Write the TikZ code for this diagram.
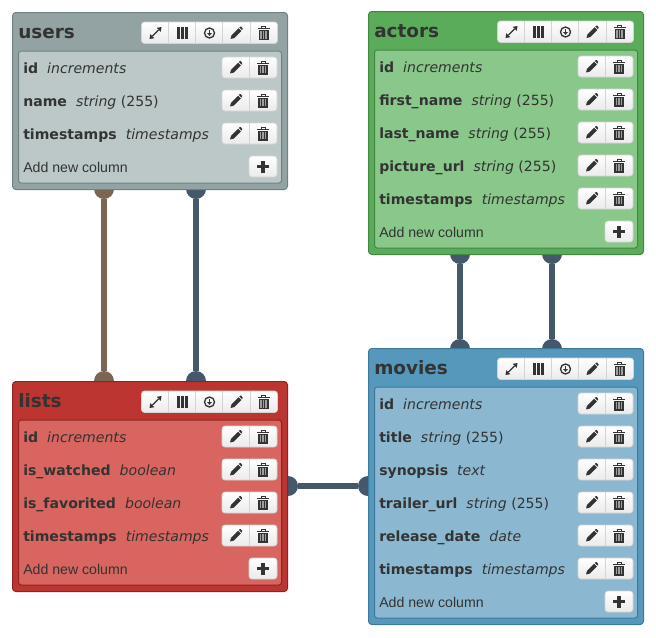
\documentclass[tikz,border=0pt]{standalone}
\usepackage{fontspec}
\setmainfont{DejaVu Sans}
\newfontfamily\addfont{Liberation Sans}
\definecolor{ink}{HTML}{333333}
\definecolor{iconink}{HTML}{333333}
\definecolor{connblue}{HTML}{44576B}
\definecolor{connbrown}{HTML}{7A6652}
\definecolor{btnedge}{HTML}{D4D4D4}
\tikzset{
  tabletitle/.style={anchor=base west,inner sep=0pt,text=ink,font=\fontsize{13.8pt}{16pt}\selectfont\bfseries},
  rowtext/.style={anchor=base west,inner sep=0pt,text=ink,font=\fontsize{10.55pt}{12pt}\selectfont},
  addtext/.style={anchor=base west,inner sep=0pt,text=ink,font=\fontsize{10.6pt}{12pt}\selectfont\addfont},
  enddot/.style={circle,inner sep=0pt,minimum size=15pt,fill=#1},
  connline/.style={line width=4.5pt,draw=#1},
  btn/.style={rounded corners=2.2pt,top color=white,bottom color=black!8,draw=btnedge,line width=.5pt},
  icon/.style={fill=iconink,draw=none},
}
% icons, drawn round the current origin (1 unit = 1 reference pixel)
\newcommand{\icPencil}[2]{\begin{scope}[shift={(#1,#2)},scale=.92]
  \fill[icon] (-6.5,6.5) -- (-5.4,2.4) -- (2.2,-5.2) -- (5.3,-2.1) -- (-2.4,5.5) -- cycle;
  \fill[icon] (3.1,-6.1) -- (4.2,-7) -- (5,-7) -- (6.7,-5.2) -- (6.7,-4.5) -- (6,-3.2) -- cycle;
\end{scope}}
\newcommand{\icTrash}[2]{\begin{scope}[shift={(#1,#2)}]
  \fill[icon] (-6,-5) rectangle (6,-3.8);
  \draw[iconink,line width=.7pt] (-2,-5) -- (-2,-6.3) -- (2,-6.3) -- (2,-5);
  \fill[icon] (-5,-2.8) rectangle (5,7);
  \foreach \s in {-3.3,-.7,1.9} \fill[white!62!black] (\s,-1.6) rectangle (\s+1.4,5.8);
\end{scope}}
\newcommand{\icExpand}[2]{\begin{scope}[shift={(#1,#2)}]
  \draw[iconink,line width=.9pt] (-3,3) -- (3,-3);
  \fill[icon] (6,-6) -- (1.2,-5.2) -- (5.2,-1.2) -- cycle;
  \fill[icon] (-6,6) -- (-1.2,5.2) -- (-5.2,1.2) -- cycle;
\end{scope}}
\newcommand{\icGrid}[2]{\begin{scope}[shift={(#1,#2)}]
  \foreach \a in {-5.6,-1.6,2.4} \foreach \b in {-5.6,-1.6,2.4} \fill[icon] (\a,\b) rectangle (\a+3.2,\b+3.2);
\end{scope}}
\newcommand{\icDown}[2]{\begin{scope}[shift={(#1,#2)}]
  \draw[iconink,line width=1pt] (0,0) circle[radius=5];
  \fill[icon] (-.9,-3) rectangle (.9,0);
  \fill[icon] (-2.6,0) -- (2.6,0) -- (0,2.8) -- cycle;
\end{scope}}
\newcommand{\icPlus}[2]{\begin{scope}[shift={(#1,#2)}]
  \fill[icon] (-6,-1.7) rectangle (6,1.7);
  \fill[icon] (-1.7,-6) rectangle (1.7,6);
\end{scope}}
% pencil + bin button pair; #1 = top y
\newcommand{\pairbtn}[1]{%
  \path[btn] (210,#1) rectangle (265,#1+21);
  \draw[btnedge,line width=.5pt] (237.5,#1) -- (237.5,#1+21);
  \icPencil{224}{#1+10.5}\icTrash{251}{#1+10.5}}
% #1 name, #2 x, #3 y, #4 width, #5 height, #6 head, #7 inner, #8 border
\newcommand{\tablebox}[8]{%
\begin{scope}[shift={(#2,#3)}]
  \definecolor{headc}{HTML}{#6}\definecolor{innerc}{HTML}{#7}\definecolor{edgec}{HTML}{#8}
  \fill[headc,draw=edgec,line width=.75pt,rounded corners=2.5pt] (0,0) rectangle (#4,#5);
  \fill[innerc,draw=edgec,line width=.75pt,rounded corners=2pt] (6,38.5) rectangle (#4-6,#5-6.5);
  \node[tabletitle] (#1-title) at (5.5,26) {#1};
  \begin{scope}[shift={(#4-275,0)}]
  \path[btn] (129,9.5) rectangle (265,31);
  \foreach \s in {156.2,183,210,237.5} \draw[btnedge,line width=.5pt] (\s,9.5) -- (\s,31);
  \icExpand{143}{20.5}\icGrid{170}{20.5}\icDown{197}{20.5}\icPencil{224}{20.5}\icTrash{251}{20.5}
  \end{scope}
\end{scope}}
% #1 node name, #2 x, #3 base y, #4 text
\newcommand{\rowlabel}[4]{\node[rowtext] (#1) at (#2,#3) {#4};}
\newcommand{\colname}[3]{\textbf{#1}\hspace{6.8pt}\textit{#2}#3}
\begin{document}
\begin{tikzpicture}[x=0.75pt,y=-0.75pt]
\useasboundingbox (0,0) rectangle (656,637);
% connectors
\node[enddot=connbrown] (uA) at (104,189) {};
\node[enddot=connbrown] (lA) at (104,381) {};
\draw[connline=connbrown] (uA) -- (lA);
\node[enddot=connblue] (uB) at (196,189) {};
\node[enddot=connblue] (lB) at (196,381) {};
\draw[connline=connblue] (uB) -- (lB);
\node[enddot=connblue] (aA) at (460,254) {};
\node[enddot=connblue] (mA) at (460,349) {};
\draw[connline=connblue] (aA) -- (mA);
\node[enddot=connblue] (aB) at (552,254) {};
\node[enddot=connblue] (mB) at (552,349) {};
\draw[connline=connblue] (aB) -- (mB);
\node[enddot=connblue] (lC) at (288,486) {};
\node[enddot=connblue] (mC) at (368,486) {};
\draw[connline=connblue] (lC) -- (mC);
% users
\tablebox{users}{12.5}{12.5}{275}{177}{93A3A3}{BCC8C8}{6F8282}
\begin{scope}[shift={(12,12)}]
\rowlabel{u1}{11}{61}{\colname{id}{increments}{}}
\rowlabel{u2}{11}{94}{\colname{name}{string}{ (255)}}
\rowlabel{u3}{11}{127}{\colname{timestamps}{timestamps}{}}
\node[addtext] (u4) at (11,160) {Add new column};
\pairbtn{45}\pairbtn{78}\pairbtn{111}
\path[btn] (237,144) rectangle (265,165); \icPlus{251}{154.5}
\end{scope}
% lists
\tablebox{lists}{12.5}{381.5}{275}{210}{BD3530}{D8655F}{8E2320}
\begin{scope}[shift={(12,381)}]
\rowlabel{l1}{11}{61}{\colname{id}{increments}{}}
\rowlabel{l2}{11}{94}{\colname{is\_watched}{boolean}{}}
\rowlabel{l3}{11}{127}{\colname{is\_favorited}{boolean}{}}
\rowlabel{l4}{11}{160}{\colname{timestamps}{timestamps}{}}
\node[addtext] (l5) at (11,193) {Add new column};
\pairbtn{45}\pairbtn{78}\pairbtn{111}\pairbtn{144}
\path[btn] (237,177) rectangle (265,198); \icPlus{251}{187.5}
\end{scope}
% actors
\tablebox{actors}{368.5}{11.5}{275}{243}{5AAB5A}{8AC78A}{3F8A3F}
\begin{scope}[shift={(368,11)}]
\rowlabel{a1}{11}{61}{\colname{id}{increments}{}}
\rowlabel{a2}{11}{94}{\colname{first\_name}{string}{ (255)}}
\rowlabel{a3}{11}{127}{\colname{last\_name}{string}{ (255)}}
\rowlabel{a4}{11}{160}{\colname{picture\_url}{string}{ (255)}}
\rowlabel{a5}{11}{193}{\colname{timestamps}{timestamps}{}}
\node[addtext] (a6) at (11,226) {Add new column};
\pairbtn{45}\pairbtn{78}\pairbtn{111}\pairbtn{144}\pairbtn{177}
\path[btn] (237,210) rectangle (265,231); \icPlus{251}{220.5}
\end{scope}
% movies
\tablebox{movies}{368.5}{348.5}{275}{276}{5598BB}{8BB8D0}{3A7A9C}
\begin{scope}[shift={(368,348)}]
\rowlabel{m1}{11}{61}{\colname{id}{increments}{}}
\rowlabel{m2}{11}{94}{\colname{title}{string}{ (255)}}
\rowlabel{m3}{11}{127}{\colname{synopsis}{text}{}}
\rowlabel{m4}{11}{160}{\colname{trailer\_url}{string}{ (255)}}
\rowlabel{m5}{11}{193}{\colname{release\_date}{date}{}}
\rowlabel{m6}{11}{226}{\colname{timestamps}{timestamps}{}}
\node[addtext] (m7) at (11,259) {Add new column};
\pairbtn{45}\pairbtn{78}\pairbtn{111}\pairbtn{144}\pairbtn{177}\pairbtn{210}
\path[btn] (237,243) rectangle (265,264); \icPlus{251}{253.5}
\end{scope}
\end{tikzpicture}
\end{document}
